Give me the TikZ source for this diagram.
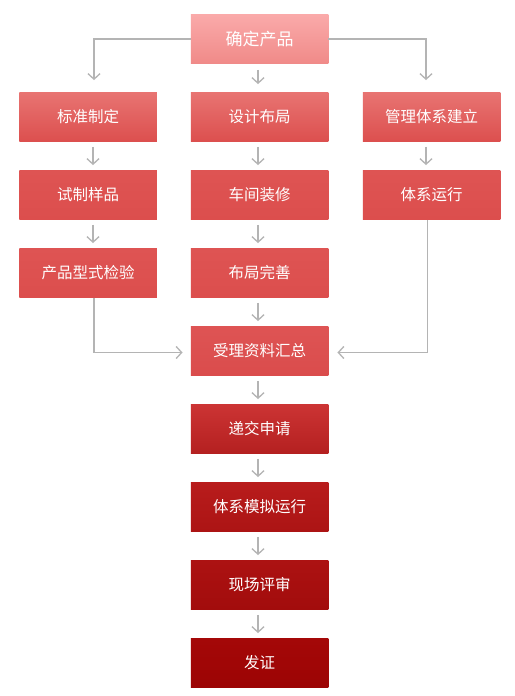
\documentclass[tikz,border=0pt]{standalone}
\usepackage{fontspec}
\setmainfont{Noto Sans CJK SC}
\usetikzlibrary{arrows.meta}
\definecolor{lc}{HTML}{B4B4B4}
\definecolor{t0}{HTML}{FAAAAA}\definecolor{b0}{HTML}{F08A88}
\definecolor{t1}{HTML}{E87472}\definecolor{b1}{HTML}{DC4F4E}
\definecolor{t2}{HTML}{DE5453}\definecolor{b2}{HTML}{DC4E4D}
\definecolor{t3}{HTML}{DE5454}\definecolor{b3}{HTML}{DA4C4C}
\definecolor{t4}{HTML}{CC3434}\definecolor{b4}{HTML}{B42020}
\definecolor{t5}{HTML}{B81C1C}\definecolor{b5}{HTML}{AC1414}
\definecolor{t6}{HTML}{AC1212}\definecolor{b6}{HTML}{A20C0C}
\definecolor{t7}{HTML}{A40808}\definecolor{b7}{HTML}{9C0404}
\begin{document}
\begin{tikzpicture}[x=1pt,y=-1pt,
  box/.style={minimum width=137.5pt,minimum height=49.5pt,inner sep=0pt,text=white,
    font=\fontsize{15.5}{18}\selectfont},
  arr/.style={draw=lc,line width=1.6pt,-{Straight Barb[length=5.5pt,width=12pt,line width=1.3pt]}},
  ln/.style={draw=lc,line width=1.6pt}]
\fill[white] (0,0) rectangle (514,696);
\useasboundingbox (0,0) rectangle (514,696);
% nodes
\node[box,top color=t0,bottom color=b0,font=\fontsize{17}{20}\selectfont] (a) at (259.5,39) {确定产品};
\node[box,top color=t1,bottom color=b1] (b1) at (88,117) {标准制定};
\node[box,top color=t1,bottom color=b1] (b2) at (259.5,117) {设计布局};
\node[box,top color=t1,bottom color=b1] (b3) at (431.5,117) {管理体系建立};
\node[box,top color=t2,bottom color=b2] (c1) at (88,195) {试制样品};
\node[box,top color=t2,bottom color=b2] (c2) at (259.5,195) {车间装修};
\node[box,top color=t2,bottom color=b2] (c3) at (431.5,195) {体系运行};
\node[box,top color=t2,bottom color=b2] (d1) at (88,273) {产品型式检验};
\node[box,top color=t2,bottom color=b2] (d2) at (259.5,273) {布局完善};
\node[box,top color=t3,bottom color=b3] (e) at (259.5,351) {受理资料汇总};
\node[box,top color=t4,bottom color=b4] (f) at (259.5,429) {递交申请};
\node[box,top color=t5,bottom color=b5] (g) at (259.5,507) {体系模拟运行};
\node[box,top color=t6,bottom color=b6] (h) at (259.5,585) {现场评审};
\node[box,top color=t7,bottom color=b7] (i) at (259.5,663) {发证};
% connectors from top
\draw[arr] (a.west) -| ([xshift=6pt,yshift=12pt]b1.north);
\draw[arr] (a.east) -| ([xshift=-5.5pt,yshift=12pt]b3.north);
\draw[arr] ([xshift=-1.5pt,yshift=-6pt]a.south) -- ([xshift=-1.5pt,yshift=8pt]b2.north);
% column arrows
\foreach \u/\v in {b1/c1,c1/d1}
  \draw[arr] ([xshift=5pt,yshift=-5pt]\u.south) -- ([xshift=5pt,yshift=5pt]\v.north);
\draw[arr] ([xshift=-5.5pt,yshift=-5pt]b3.south) -- ([xshift=-5.5pt,yshift=5pt]c3.north);
\foreach \u/\v in {b2/c2,c2/d2,d2/e,e/f,f/g,g/h,h/i}
  \draw[arr] ([xshift=-1.5pt,yshift=-5pt]\u.south) -- ([xshift=-1.5pt,yshift=5pt]\v.north);
% merge connectors
\coordinate (lft) at ([xshift=-8pt,yshift=-1.5pt]e.west);
\coordinate (rgt) at ([xshift=9pt,yshift=-1.5pt]e.east);
\draw[arr] ([xshift=6pt]d1.south) |- (lft);
\draw[arr] ([xshift=-4pt]c3.south) |- (rgt);
\end{tikzpicture}
\end{document}
